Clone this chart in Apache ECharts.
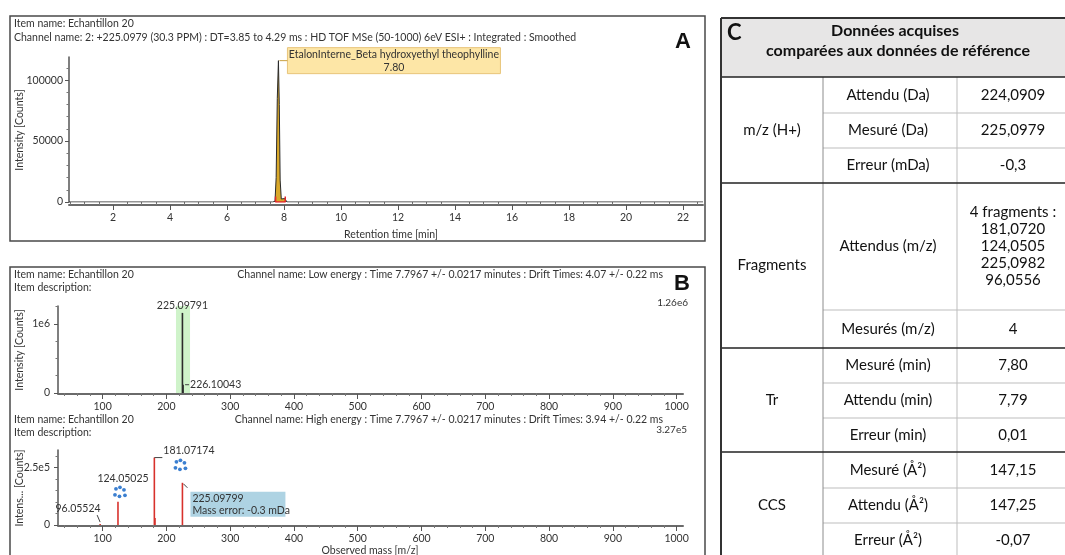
<!DOCTYPE html>
<html><head><meta charset="utf-8">
<script src="https://cdn.jsdelivr.net/npm/echarts@6/dist/echarts.min.js"></script>
<style>html,body{margin:0;padding:0;background:#fff}#c{width:1065px;height:555px}</style>
</head><body><div id="c"></div>
<script>
// ---------- DATA ----------
// Panel A : chromatogram (retention time in min, intensity in counts)
const rtMin        = [0.45, 7.60, 7.68, 7.72, 7.76, 7.80, 7.83, 7.86, 7.90, 7.95, 8.02, 8.10, 22.7];
const rtIntensity  = [0,    0,    600,  20000, 85000, 116000, 80000, 18000, 2500, 1500, 2800, 0,  0];
const integMin       = [7.70, 7.70, 8.04, 8.04];
const integIntensity = [4500, 0,    0,    4500];
const rtTicks        = [2, 4, 6, 8, 10, 12, 14, 16, 18, 20, 22];
const intensityTicksA = [0, 50000, 100000];
const peakName = 'EtalonInterne_Beta hydroxyethyl theophylline';
const peakRtLabel = '7.80';
const peakRt = 7.80, peakTop = 116000;

// Panel B : spectra (m/z, counts)
const lowMass      = [225.09791, 226.10043];
const lowIntensity = [1160000, 120000];
const highMass      = [96.05524, 124.05025, 181.07174, 182.075, 225.09799];
const highIntensity = [4000, 101000, 294000, 30000, 184000];
const massTicks   = [100, 200, 300, 400, 500, 600, 700, 800, 900, 1000];
const lowTicksY   = [0, 1000000];
const highTicksY  = [0, 250000];
const lowFullScale = '1.26e6', highFullScale = '3.27e5';

// Panel C : table
const groupLabels = ['m/z (H+)', 'Fragments', 'Tr', 'CCS'];
const groupSizes  = [3, 2, 3, 3];
const rowLabels = ['Attendu (Da)', 'Mesuré (Da)', 'Erreur (mDa)', 'Attendus (m/z)', 'Mesurés (m/z)',
  'Mesuré (min)', 'Attendu (min)', 'Erreur (min)', 'Mesuré (Å²)', 'Attendu (Å²)', 'Erreur (Å²)'];
const fragmentsExpected = ['181,0720', '124,0505', '225,0982', '96,0556'];
const rowValues = ['224,0909', '225,0979', '-0,3', '4 fragments :\n' + fragmentsExpected.join('\n'), '4',
  '7,80', '7,79', '0,01', '147,15', '147,25', '-0,07'];

// ---------- HELPERS ----------
const FONT = 'Lato', TXT = '#333', FS = 10.5;
function range(a, b, s) { const r = []; for (let v = a; v <= b + 1e-9; v += s) r.push(+v.toFixed(6)); return r; }
function notIn(arr) { return v => !arr.some(m => Math.abs(m - v) < 1e-6); }
const fmtPlain = v => String(v);

function xPair(grid, min, max, major, minor, offset, margin) {
  return [
    { type: 'value', gridIndex: grid, position: 'bottom', min, max, offset,
      splitLine: { show: false },
      axisLine: { show: true, onZero: false, lineStyle: { color: '#6a6a6a', width: 2 } },
      axisTick: { show: true, inside: false, length: 5, customValues: major, lineStyle: { color: '#555' } },
      axisLabel: { show: true, customValues: major, margin, color: TXT, fontFamily: FONT, fontSize: FS, formatter: fmtPlain } },
    { type: 'value', gridIndex: grid, position: 'bottom', min, max, offset,
      splitLine: { show: false }, axisLine: { show: false },
      axisTick: { show: true, inside: false, length: 3, customValues: minor, lineStyle: { color: '#777' } },
      axisLabel: { show: false } }
  ];
}
function yPair(grid, min, max, major, minor, margin, fmt) {
  return [
    { type: 'value', gridIndex: grid, position: 'left', min, max,
      splitLine: { show: false },
      axisLine: { show: true, onZero: false, lineStyle: { color: '#555', width: 1.5 } },
      axisTick: { show: true, inside: false, length: 4, customValues: major, lineStyle: { color: '#555' } },
      axisLabel: { show: true, customValues: major, margin, color: TXT, fontFamily: FONT, fontSize: FS, formatter: fmt } },
    { type: 'value', gridIndex: grid, position: 'left', min, max,
      splitLine: { show: false }, axisLine: { show: false },
      axisTick: { show: true, inside: false, length: 2.5, customValues: minor, lineStyle: { color: '#777' } },
      axisLabel: { show: false } }
  ];
}
function stick(color) {
  return (params, api) => {
    const x = api.value(0), y = api.value(1);
    const p0 = api.coord([x, 0]), p1 = api.coord([x, y]);
    return { type: 'line', shape: { x1: p0[0], y1: p0[1], x2: p1[0], y2: p1[1] },
      style: { stroke: color, lineWidth: 1.6 } };
  };
}

const minorRtX = range(0.5, 22.5, 0.5).filter(notIn(rtTicks));
const minorAY = range(10000, 110000, 10000).filter(notIn(intensityTicksA));
const minorMass = range(40, 1000, 20).filter(notIn(massTicks));
const minorLowY = range(250000, 1250000, 250000).filter(notIn(lowTicksY));
const minorHighY = range(50000, 300000, 50000).filter(notIn(highTicksY));

const fmtLow = v => v === 0 ? '0' : '1e6';
const fmtHigh = v => v === 0 ? '0' : '2.5e5';

const chart = echarts.init(document.getElementById('c'));

const option = {
  animation: false,
  backgroundColor: '#fff',
  grid: [
    { left: 69, top: 57, width: 634, height: 145 },
    { left: 58, top: 306, width: 625, height: 87 },
    { left: 58, top: 450, width: 625, height: 75 }
  ],
  xAxis: [
    ...xPair(0, 0.45, 22.7, rtTicks, minorRtX, 3, 7),
    ...xPair(1, 30, 1010, massTicks, minorMass, 1, 7),
    ...xPair(2, 30, 1010, massTicks, minorMass, 1, 7)
  ],
  yAxis: [
    ...yPair(0, 0, 119000, intensityTicksA, minorAY, 6, fmtPlain),
    ...yPair(1, 0, 1260000, lowTicksY, minorLowY, 8, fmtLow),
    ...yPair(2, 0, 327000, highTicksY, minorHighY, 8, fmtHigh)
  ],
  series: [
    { type: 'line', xAxisIndex: 0, yAxisIndex: 0, symbol: 'none', z: 3,
      data: rtMin.map((x, i) => [x, rtIntensity[i]]),
      lineStyle: { color: '#2a2a2a', width: 1 },
      areaStyle: { color: '#d9a82a', opacity: 1 } },
    { type: 'line', xAxisIndex: 0, yAxisIndex: 0, symbol: 'none', z: 4,
      data: integMin.map((x, i) => [x, integIntensity[i]]),
      lineStyle: { color: '#e0252a', width: 1.5 } },
    { type: 'custom', xAxisIndex: 2, yAxisIndex: 2, renderItem: stick('#2b2b2b'), z: 3,
      encode: { x: 0, y: 1 },
      data: lowMass.map((x, i) => [x, lowIntensity[i]]),
      markArea: { silent: true, itemStyle: { color: 'rgba(160,232,150,0.5)' },
        data: [[{ xAxis: 215 }, { xAxis: 237 }]] } },
    { type: 'custom', xAxisIndex: 4, yAxisIndex: 4, renderItem: stick('#d8312c'), z: 3,
      encode: { x: 0, y: 1 },
      data: highMass.map((x, i) => [x, highIntensity[i]]) }
  ]
};
chart.setOption(option);

// ---------- Annotations & table (positioned through the axes) ----------
const G = [];
const txt = (x, y, text, o = {}) => G.push({ type: 'text', x, y, z: 50, rotation: o.rot || 0,
  style: { text, fill: o.color || TXT, font: (o.weight || 'normal') + ' ' + (o.size || FS) + 'px ' + (o.family || FONT),
    align: o.align || 'left', verticalAlign: o.va || 'middle', lineHeight: o.lh } });
const line = (x1, y1, x2, y2, stroke, w) => G.push({ type: 'line', z: 50,
  shape: { x1, y1, x2, y2 }, style: { stroke, lineWidth: w } });
const rect = (x, y, w, h, fill, stroke, lw, z) => G.push({ type: 'rect', z: z || 40,
  shape: { x, y, width: w, height: h }, style: { fill, stroke, lineWidth: lw || 1 } });
const px = (xi, yi, v) => chart.convertToPixel({ xAxisIndex: xi, yAxisIndex: yi }, v);
function molecule(cx, cy) {
  const pts = [[-4, -4], [0, -5.5], [4, -3], [-5, 2], [-0.5, 3.5], [5, 2.5]];
  pts.forEach(p => G.push({ type: 'circle', z: 55, shape: { cx: cx + p[0], cy: cy + p[1], r: 1.9 },
    style: { fill: '#3b7fd0' } }));
}

// Panel frames
rect(10, 16, 695, 225, 'none', '#4a4a4a', 1.5);
rect(10, 267, 695, 300, 'none', '#4a4a4a', 1.5);

// Panel A texts
txt(14, 24, 'Item name: Echantillon 20');
txt(14, 38, 'Channel name: 2: +225.0979 (30.3 PPM) : DT=3.85 to 4.29 ms : HD TOF MSe (50-1000) 6eV ESI+ : Integrated : Smoothed');
txt(683, 42, 'A', { size: 22, weight: 'bold', family: 'Liberation Sans', align: 'center', color: '#111' });
txt(20, 130, 'Intensity [Counts]', { rot: Math.PI / 2, align: 'center' });
txt(391, 235, 'Retention time [min]', { align: 'center' });
const pa = px(0, 0, [peakRt, peakTop]);
line(pa[0] + 1, pa[1], pa[0] + 9, pa[1], '#c9a040', 1);
rect(pa[0] + 9, pa[1] - 13, 213, 26, '#fde6a6', '#e8c47a', 1, 45);
txt(pa[0] + 9 + 106.5, pa[1] - 6, peakName, { align: 'center' });
txt(pa[0] + 9 + 106.5, pa[1] + 7, peakRtLabel, { align: 'center' });

// Panel B texts
txt(14, 275, 'Item name: Echantillon 20');
txt(14, 288, 'Item description:');
txt(663, 275, 'Channel name: Low energy : Time 7.7967 +/- 0.0217 minutes : Drift Times: 4.07 +/- 0.22 ms', { align: 'right' });
txt(682, 284, 'B', { size: 22, weight: 'bold', family: 'Liberation Sans', align: 'center', color: '#111' });
txt(688, 303, lowFullScale, { align: 'right', size: 10 });
txt(20, 350, 'Intensity [Counts]', { rot: Math.PI / 2, align: 'center' });
txt(14, 420, 'Item name: Echantillon 20');
txt(14, 433, 'Item description:');
txt(663, 420, 'Channel name: High energy : Time 7.7967 +/- 0.0217 minutes : Drift Times: 3.94 +/- 0.22 ms', { align: 'right' });
txt(687, 430, highFullScale, { align: 'right', size: 10 });
txt(20, 488, 'Intens... [Counts]', { rot: Math.PI / 2, align: 'center' });
txt(370, 551, 'Observed mass [m/z]', { align: 'center' });

// Low-energy peak labels
const l0 = px(2, 2, [lowMass[0], lowIntensity[0]]);
txt(l0[0], l0[1] - 7, lowMass[0].toFixed(5), { align: 'center' });
const l1 = px(2, 2, [lowMass[1], lowIntensity[1]]);
line(l1[0] + 2, l1[1], l1[0] + 6, l1[1], '#444', 1);
txt(l1[0] + 7, l1[1], lowMass[1].toFixed(5));

// High-energy peak labels
const h96 = px(4, 4, [highMass[0], highIntensity[0]]);
line(h96[0] - 3, h96[1] - 9, h96[0], h96[1] - 2, '#444', 1);
txt(h96[0] + 0.5, h96[1] - 15, highMass[0].toFixed(5), { align: 'right' });
const h124 = px(4, 4, [highMass[1], highIntensity[1]]);
txt(h124[0] + 5, h124[1] - 23, highMass[1].toFixed(5), { align: 'center' });
molecule(h124[0] + 2, h124[1] - 9);
const h181 = px(4, 4, [highMass[2], highIntensity[2]]);
line(h181[0], h181[1], h181[0] + 8, h181[1], '#444', 1);
txt(h181[0] + 9, h181[1] - 7, highMass[2].toFixed(5));
const h225 = px(4, 4, [highMass[4], highIntensity[4]]);
line(h225[0] + 1, h225[1] + 1, h225[0] + 5, h225[1] + 5, '#444', 1);
rect(h225[0] + 8, h225[1] + 9, 95, 25, '#aed3e3', 'none', 0, 45);
txt(h225[0] + 10, h225[1] + 16, highMass[4].toFixed(5));
txt(h225[0] + 10, h225[1] + 28, 'Mass error: -0.3 mDa');
molecule(h225[0] - 2, h225[1] - 17);

// Panel C : table
const TX0 = 721, TX1 = 823, TX2 = 957, TX3 = 1067, TY0 = 18, TYH = 77;
const rowBounds = [77, 113, 148, 183, 310, 348, 383, 418, 452, 488, 523, 558];
const TF = { family: 'Lato', size: 15, color: '#111', align: 'center' };
rect(TX0, TY0, TX3 - TX0, TYH - TY0, '#e7e6e6', 'none', 0, 20);
let r = 0;
const groupStarts = [];
groupSizes.forEach(n => { groupStarts.push(r); r += n; });
rowBounds.forEach((y, i) => {
  if (i === 0 || i === rowBounds.length - 1) return;
  if (groupStarts.includes(i)) return;
  line(TX1, y, TX3, y, '#bdbdbd', 1);
});
line(TX1, TYH, TX1, 560, '#8c8c8c', 1);
line(TX2, TYH, TX2, 560, '#bdbdbd', 1);
groupStarts.forEach(i => line(TX0, rowBounds[i], TX3, rowBounds[i], '#222', 1.5));
line(TX0, TY0, TX3, TY0, '#333', 2);
line(TX0, TY0, TX0, 560, '#333', 2);
txt(727, 33, 'C', { family: 'Lato', size: 22, weight: 'bold', color: '#111' });
txt(895, 31, 'Données acquises', { ...TF, size: 16, weight: 'bold' });
txt(898, 51, 'comparées aux données de référence', { ...TF, size: 16, weight: 'bold' });
groupLabels.forEach((g, gi) => {
  const a = rowBounds[groupStarts[gi]], b = rowBounds[groupStarts[gi] + groupSizes[gi]];
  txt((TX0 + TX1) / 2, (a + b) / 2, g, TF);
});
rowLabels.forEach((lab, i) => {
  const yc = (rowBounds[i] + rowBounds[i + 1]) / 2;
  txt((TX1 + TX2) / 2 - 2, yc, lab, TF);
  txt(1013, yc, rowValues[i], { ...TF, lh: 17 });
});

chart.setOption({ graphic: { elements: G } });
</script>
</body></html>
